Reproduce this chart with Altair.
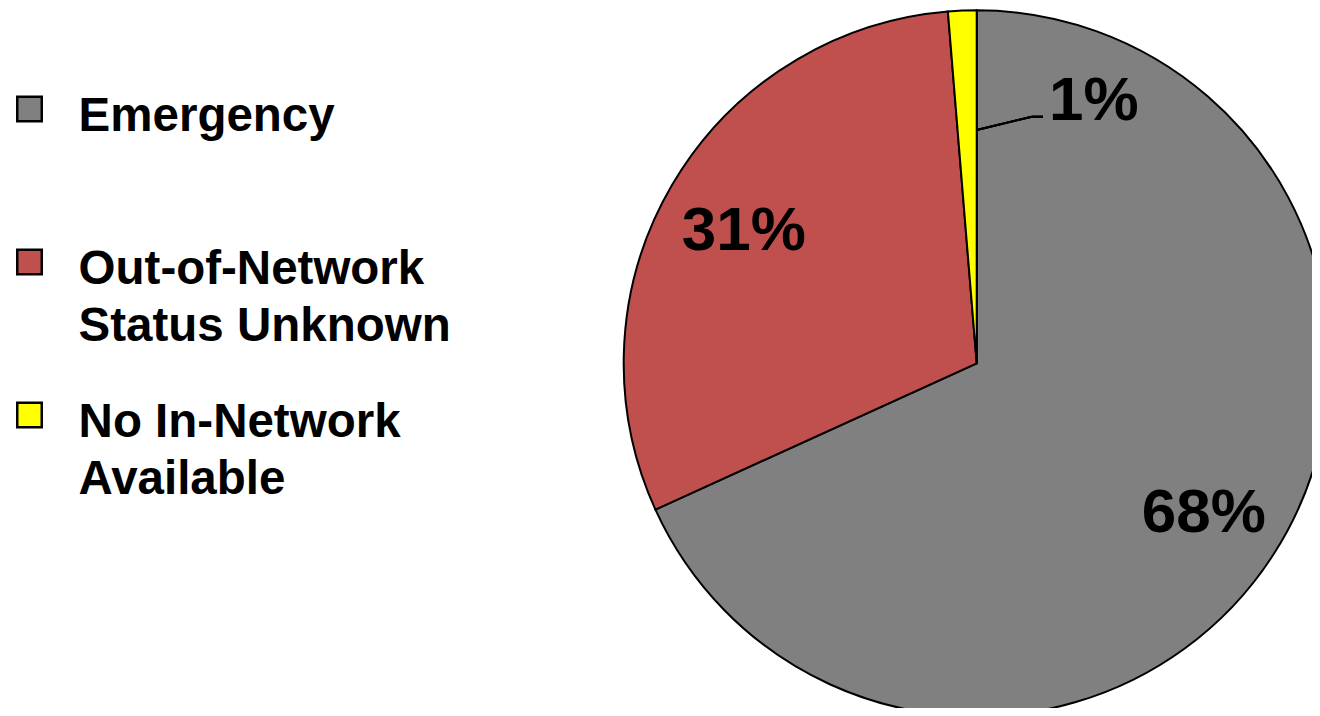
import altair as alt
import pandas as pd

categories = ["Emergency", "Out-of-Network Status Unknown", "No In-Network Available"]
shares = [68.2, 30.5, 1.3]
pct_labels = ["68%", "31%", "1%"]
legend_labels = ["Emergency", "Out-of-Network|Status Unknown", "No In-Network|Available"]
colors = ["#808080", "#C0504D", "#FFFF00"]

df = pd.DataFrame({
    "category": categories,
    "value": shares,
    "label": pct_labels,
    "legend": legend_labels,
})

cat_list = "[" + ",".join("'" + c + "'" for c in categories) + "]"
base = alt.Chart(df).transform_calculate(
    idx=f"indexof({cat_list}, datum.category)"
)

color = alt.Color("category:N", scale=alt.Scale(domain=categories, range=colors), legend=None)
theta = alt.Theta("value:Q", stack=True)
order = alt.Order("idx:Q")

CX, CY, R = 968.7, 355.3, 353

pie = base.mark_arc(x=CX, y=CY, outerRadius=R, stroke="black", strokeWidth=2).encode(
    theta=theta, color=color, order=order
)

inner_text = base.transform_calculate(
    t="datum.category == 'No In-Network Available' ? '' : datum.label"
).mark_text(
    x=CX, y=CY, radius=270, fontSize=62, fontWeight="bold", font="Liberation Sans",
    color="black", align="center", baseline="middle", dy=4
).encode(theta=theta, detail="category:N", order=order, text="t:N")

outer_text = base.transform_calculate(
    t="datum.category == 'No In-Network Available' ? datum.label : ''"
).mark_text(
    x=CX, y=CY, radius=267, fontSize=62, fontWeight="bold", font="Liberation Sans",
    color="black", align="center", baseline="middle", dx=128, dy=4
).encode(theta=theta, detail="category:N", order=order, text="t:N")

leader1 = alt.Chart(df).mark_rule(color="black", strokeWidth=2).encode(
    x=alt.value(968.7), y=alt.value(122), x2=alt.value(1023.7), y2=alt.value(108.7)
)
leader2 = alt.Chart(df).mark_rule(color="black", strokeWidth=2).encode(
    x=alt.value(1023.7), y=alt.value(108.7), x2=alt.value(1035), y2=alt.value(108.7)
)

ly = alt.Y("category:N", sort=categories, axis=None,
           scale=alt.Scale(range=[101, 407], padding=0))

legend_sym = base.mark_point(
    shape="square", filled=True, size=600, stroke="black", strokeWidth=2.5, opacity=1
).encode(x=alt.value(21.5), y=ly, color=color)

legend_txt = base.mark_text(
    align="left", baseline="alphabetic", fontSize=47.5, fontWeight="bold",
    font="Liberation Sans", lineBreak="|", lineHeight=57, dy=21.6, color="black"
).encode(x=alt.value(70.6), y=ly, text="legend:N")

chart = alt.layer(pie, inner_text, outer_text, leader1, leader2, legend_sym, legend_txt).properties(
    width=1304, height=700, padding=0,
    autosize=alt.AutoSizeParams(type="none"),
    background="white",
).configure_view(stroke=None)

chart.save("out.html", embed_options={"renderer": "svg", "actions": False})
